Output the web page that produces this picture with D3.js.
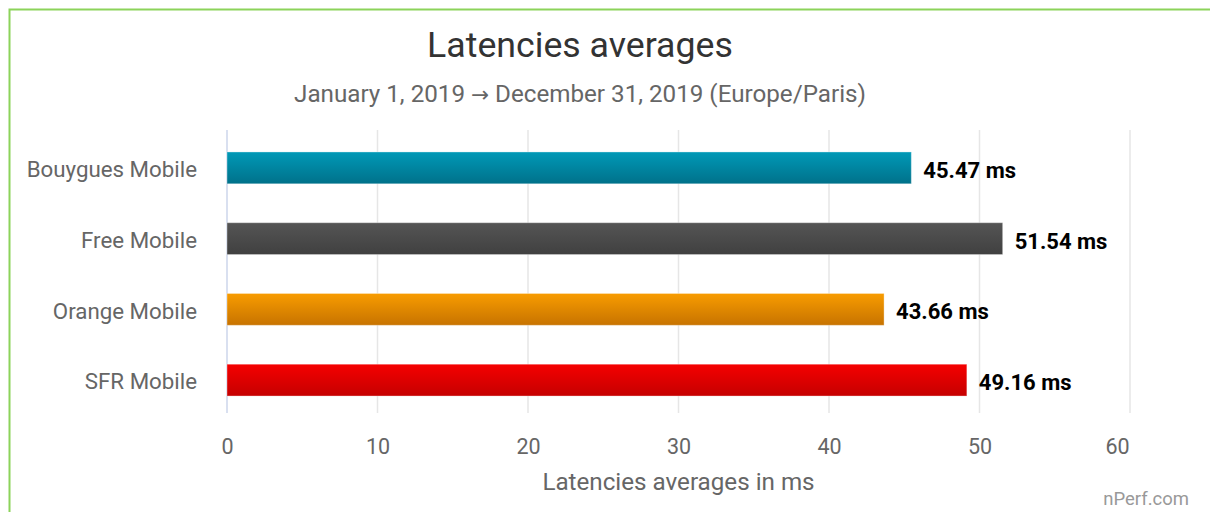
<!DOCTYPE html>
<html>
<head>
<meta charset="utf-8">
<script src="https://cdn.jsdelivr.net/npm/d3@7"></script>
<style>
  body { margin: 0; background: #fff; }
  svg { display: block; font-family: Roboto, "Noto Sans", sans-serif; }
</style>
</head>
<body>
<svg width="1210" height="512"></svg>
<script>

var operators = ["Bouygues Mobile", "Free Mobile", "Orange Mobile", "SFR Mobile"];
var latencies = [45.47, 51.54, 43.66, 49.16];
var barColors = [["#0099b7", "#00718a"], ["#555555", "#404040"], ["#f89c00", "#c77300"], ["#f50000", "#c50000"]];
var xTicks = [0, 10, 20, 30, 40, 50, 60];

var svg = d3.select('svg');

var plotLeft = 227, plotRight = 1130, plotTop = 130, plotBottom = 413;

// green frame, runs off the right and bottom edges
svg.append('rect')
    .attr('x', 9.5).attr('y', 9.5)
    .attr('width', 1220).attr('height', 520)
    .attr('fill', 'none')
    .attr('stroke', '#8cd35a')
    .attr('stroke-width', 2);

var x = d3.scaleLinear().domain([0, 60]).range([plotLeft, plotRight]);

var y = d3.scaleBand()
    .domain(operators)
    .range([plotTop + 2.5, plotBottom + 2.5])
    .paddingInner(0.55)
    .paddingOuter(0.275);

var defs = svg.append('defs');
barColors.forEach(function(c, i){
    var g = defs.append('linearGradient')
        .attr('id', 'grad' + i)
        .attr('x1', 0).attr('y1', 0).attr('x2', 0).attr('y2', 1);
    g.append('stop').attr('offset', '0%').attr('stop-color', c[0]);
    g.append('stop').attr('offset', '100%').attr('stop-color', c[1]);
});

// gridlines
svg.append('g')
    .selectAll('line')
    .data(xTicks.slice(1))
    .enter()
    .append('line')
    .attr('x1', d => x(d)).attr('x2', d => x(d))
    .attr('y1', plotTop).attr('y2', plotBottom)
    .attr('stroke', '#e6e6e6')
    .attr('stroke-width', 1.5);

// left axis line
svg.append('line')
    .attr('x1', plotLeft).attr('x2', plotLeft)
    .attr('y1', plotTop).attr('y2', plotBottom)
    .attr('stroke', '#ccd6eb')
    .attr('stroke-width', 1.5);

// bars
svg.append('g')
    .selectAll('rect')
    .data(latencies)
    .enter()
    .append('rect')
    .attr('x', plotLeft)
    .attr('y', (d, i) => y(operators[i]))
    .attr('width', d => x(d) - plotLeft)
    .attr('height', y.bandwidth())
    .attr('fill', (d, i) => 'url(#grad' + i + ')')
    .attr('stroke', 'rgba(255,255,255,0.35)')
    .attr('stroke-width', 1);

// value labels
svg.append('g')
    .selectAll('text')
    .data(latencies)
    .enter()
    .append('text')
    .attr('x', d => x(d) + 12)
    .attr('y', (d, i) => y(operators[i]) + y.bandwidth() / 2)
    .attr('dy', '0.45em')
    .attr('font-size', 22)
    .attr('font-weight', 'bold')
    .attr('fill', '#000')
    .text(d => d.toFixed(2) + ' ms');

// category labels
svg.append('g')
    .selectAll('text')
    .data(operators)
    .enter()
    .append('text')
    .attr('x', 197)
    .attr('y', d => y(d) + y.bandwidth() / 2)
    .attr('dy', '0.42em')
    .attr('text-anchor', 'end')
    .attr('font-size', 22.3)
    .attr('fill', '#666')
    .text(d => d);

// x axis
var xAxis = svg.append('g')
    .attr('transform', 'translate(0,' + plotBottom + ')')
    .call(d3.axisBottom(x).tickValues(xTicks).tickSize(0).tickPadding(26));
xAxis.select('.domain').remove();
xAxis.selectAll('text')
    .attr('font-size', 21.5)
    .attr('font-family', 'Roboto, sans-serif')
    .attr('fill', '#666');
// last label is pulled in so it stays inside the chart
xAxis.selectAll('.tick').filter(d => d === 60).select('text').attr('dx', -13);

svg.append('text')
    .attr('x', (plotLeft + plotRight) / 2)
    .attr('y', 490)
    .attr('text-anchor', 'middle')
    .attr('font-size', 24.2)
    .attr('fill', '#666')
    .text('Latencies averages in ms');

svg.append('text')
    .attr('x', 580)
    .attr('y', 57)
    .attr('text-anchor', 'middle')
    .attr('font-size', 35.7)
    .attr('fill', '#333')
    .text('Latencies averages');

var sub = svg.append('text')
    .attr('x', 580)
    .attr('y', 102)
    .attr('text-anchor', 'middle')
    .attr('font-size', 24.2)
    .attr('fill', '#666');
sub.append('tspan').text('January 1, 2019 ');
sub.append('tspan').attr('font-family', '"DejaVu Sans", sans-serif').attr('font-size', 21.5).text('\u2192');
sub.append('tspan').text(' December 31, 2019 (Europe/Paris)');

svg.append('text')
    .attr('x', 1189)
    .attr('y', 505)
    .attr('text-anchor', 'end')
    .attr('font-size', 18.5)
    .attr('fill', '#999')
    .text('nPerf.com');

</script>
</body>
</html>
